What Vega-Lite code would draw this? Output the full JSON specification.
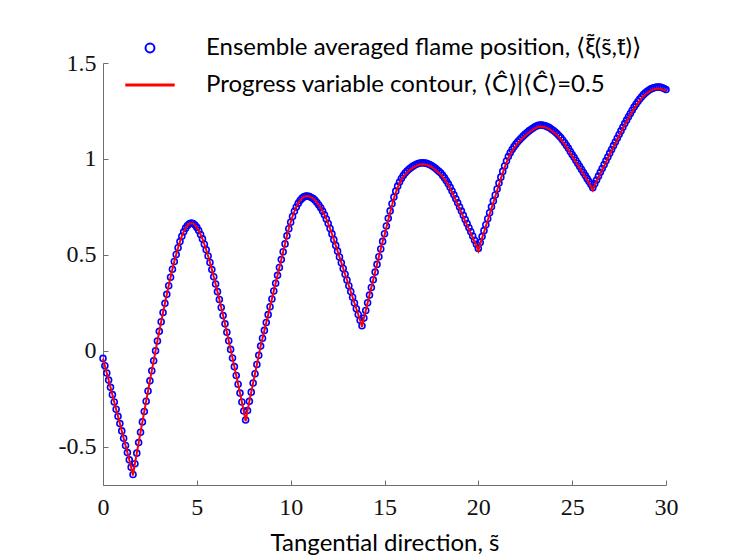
{
"$schema": "https://vega.github.io/schema/vega-lite/v6.json",
"width": 563, "height": 422,
"autosize": {"type": "none"},
"padding": {"left": 103, "top": 63, "right": 67, "bottom": 73},
"background": "white",
"config": {"view": {"stroke": null},
"legend": {"orient": "none", "legendX": 35, "legendY": -27, "title": null, "direction": "vertical", "padding": 0, "rowPadding": 13, "symbolSize": 1444, "labelFont": "Lato", "labelFontSize": 24, "labelColor": "#000000", "labelLimit": 700, "labelOffset": 44}},
"data": {"values": [
{"s":0.0,"a":-0.040,"b":-0.040},{"s":0.1,"a":-0.078,"b":-0.078},{"s":0.2,"a":-0.116,"b":-0.116},{"s":0.3,"a":-0.153,"b":-0.153},{"s":0.4,"a":-0.191,"b":-0.191},{"s":0.5,"a":-0.229,"b":-0.229},{"s":0.6,"a":-0.267,"b":-0.267},{"s":0.7,"a":-0.305,"b":-0.305},{"s":0.8,"a":-0.342,"b":-0.342},{"s":0.9,"a":-0.380,"b":-0.380},
{"s":1.0,"a":-0.418,"b":-0.418},{"s":1.1,"a":-0.456,"b":-0.456},{"s":1.2,"a":-0.494,"b":-0.494},{"s":1.3,"a":-0.531,"b":-0.531},{"s":1.4,"a":-0.569,"b":-0.569},{"s":1.5,"a":-0.607,"b":-0.607},{"s":1.6,"a":-0.645,"b":-0.650},{"s":1.7,"a":-0.589,"b":-0.589},{"s":1.8,"a":-0.534,"b":-0.534},{"s":1.9,"a":-0.479,"b":-0.479},
{"s":2.0,"a":-0.425,"b":-0.425},{"s":2.1,"a":-0.371,"b":-0.371},{"s":2.2,"a":-0.317,"b":-0.317},{"s":2.3,"a":-0.263,"b":-0.263},{"s":2.4,"a":-0.210,"b":-0.210},{"s":2.5,"a":-0.157,"b":-0.157},{"s":2.6,"a":-0.104,"b":-0.104},{"s":2.7,"a":-0.052,"b":-0.052},{"s":2.8,"a":0.000,"b":0.000},{"s":2.9,"a":0.051,"b":0.051},
{"s":3.0,"a":0.101,"b":0.101},{"s":3.1,"a":0.151,"b":0.151},{"s":3.2,"a":0.199,"b":0.199},{"s":3.3,"a":0.247,"b":0.247},{"s":3.4,"a":0.294,"b":0.294},{"s":3.5,"a":0.339,"b":0.339},{"s":3.6,"a":0.383,"b":0.383},{"s":3.7,"a":0.425,"b":0.425},{"s":3.8,"a":0.465,"b":0.465},{"s":3.9,"a":0.502,"b":0.502},
{"s":4.0,"a":0.537,"b":0.537},{"s":4.1,"a":0.569,"b":0.569},{"s":4.2,"a":0.597,"b":0.597},{"s":4.3,"a":0.620,"b":0.620},{"s":4.4,"a":0.639,"b":0.639},{"s":4.5,"a":0.653,"b":0.653},{"s":4.6,"a":0.662,"b":0.662},{"s":4.7,"a":0.665,"b":0.665},{"s":4.8,"a":0.663,"b":0.663},{"s":4.9,"a":0.655,"b":0.655},
{"s":5.0,"a":0.643,"b":0.643},{"s":5.1,"a":0.627,"b":0.627},{"s":5.2,"a":0.606,"b":0.606},{"s":5.3,"a":0.583,"b":0.583},{"s":5.4,"a":0.555,"b":0.555},{"s":5.5,"a":0.526,"b":0.526},{"s":5.6,"a":0.494,"b":0.494},{"s":5.7,"a":0.460,"b":0.460},{"s":5.8,"a":0.423,"b":0.423},{"s":5.9,"a":0.386,"b":0.386},
{"s":6.0,"a":0.348,"b":0.348},{"s":6.1,"a":0.308,"b":0.308},{"s":6.2,"a":0.267,"b":0.267},{"s":6.3,"a":0.225,"b":0.225},{"s":6.4,"a":0.183,"b":0.183},{"s":6.5,"a":0.140,"b":0.140},{"s":6.6,"a":0.096,"b":0.096},{"s":6.7,"a":0.052,"b":0.052},{"s":6.8,"a":0.007,"b":0.007},{"s":6.9,"a":-0.038,"b":-0.038},
{"s":7.0,"a":-0.083,"b":-0.083},{"s":7.1,"a":-0.129,"b":-0.129},{"s":7.2,"a":-0.175,"b":-0.175},{"s":7.3,"a":-0.221,"b":-0.221},{"s":7.4,"a":-0.267,"b":-0.267},{"s":7.5,"a":-0.314,"b":-0.314},{"s":7.6,"a":-0.361,"b":-0.368},{"s":7.7,"a":-0.312,"b":-0.312},{"s":7.8,"a":-0.264,"b":-0.264},{"s":7.9,"a":-0.216,"b":-0.216},
{"s":8.0,"a":-0.168,"b":-0.168},{"s":8.1,"a":-0.120,"b":-0.120},{"s":8.2,"a":-0.072,"b":-0.072},{"s":8.3,"a":-0.024,"b":-0.024},{"s":8.4,"a":0.024,"b":0.024},{"s":8.5,"a":0.065,"b":0.065},{"s":8.6,"a":0.106,"b":0.106},{"s":8.7,"a":0.147,"b":0.147},{"s":8.8,"a":0.188,"b":0.188},{"s":8.9,"a":0.229,"b":0.229},
{"s":9.0,"a":0.270,"b":0.270},{"s":9.1,"a":0.311,"b":0.311},{"s":9.2,"a":0.352,"b":0.352},{"s":9.3,"a":0.393,"b":0.393},{"s":9.4,"a":0.434,"b":0.434},{"s":9.5,"a":0.475,"b":0.475},{"s":9.6,"a":0.516,"b":0.516},{"s":9.7,"a":0.557,"b":0.557},{"s":9.8,"a":0.599,"b":0.599},{"s":9.9,"a":0.636,"b":0.636},
{"s":10.0,"a":0.670,"b":0.670},{"s":10.1,"a":0.700,"b":0.700},{"s":10.2,"a":0.727,"b":0.727},{"s":10.3,"a":0.749,"b":0.749},{"s":10.4,"a":0.768,"b":0.768},{"s":10.5,"a":0.783,"b":0.783},{"s":10.6,"a":0.794,"b":0.794},{"s":10.7,"a":0.802,"b":0.802},{"s":10.8,"a":0.806,"b":0.806},{"s":10.9,"a":0.806,"b":0.806},
{"s":11.0,"a":0.804,"b":0.804},{"s":11.1,"a":0.799,"b":0.799},{"s":11.2,"a":0.793,"b":0.793},{"s":11.3,"a":0.784,"b":0.784},{"s":11.4,"a":0.773,"b":0.773},{"s":11.5,"a":0.760,"b":0.760},{"s":11.6,"a":0.745,"b":0.745},{"s":11.7,"a":0.728,"b":0.728},{"s":11.8,"a":0.709,"b":0.709},{"s":11.9,"a":0.687,"b":0.687},
{"s":12.0,"a":0.663,"b":0.663},{"s":12.1,"a":0.637,"b":0.637},{"s":12.2,"a":0.609,"b":0.609},{"s":12.3,"a":0.579,"b":0.579},{"s":12.4,"a":0.549,"b":0.549},{"s":12.5,"a":0.519,"b":0.519},{"s":12.6,"a":0.489,"b":0.489},{"s":12.7,"a":0.459,"b":0.459},{"s":12.8,"a":0.429,"b":0.429},{"s":12.9,"a":0.399,"b":0.399},
{"s":13.0,"a":0.369,"b":0.369},{"s":13.1,"a":0.339,"b":0.339},{"s":13.2,"a":0.309,"b":0.309},{"s":13.3,"a":0.279,"b":0.279},{"s":13.4,"a":0.249,"b":0.249},{"s":13.5,"a":0.219,"b":0.219},{"s":13.6,"a":0.189,"b":0.189},{"s":13.7,"a":0.159,"b":0.159},{"s":13.8,"a":0.130,"b":0.124},{"s":13.9,"a":0.170,"b":0.170},
{"s":14.0,"a":0.210,"b":0.210},{"s":14.1,"a":0.250,"b":0.250},{"s":14.2,"a":0.290,"b":0.290},{"s":14.3,"a":0.330,"b":0.330},{"s":14.4,"a":0.370,"b":0.370},{"s":14.5,"a":0.410,"b":0.410},{"s":14.6,"a":0.450,"b":0.450},{"s":14.7,"a":0.490,"b":0.490},{"s":14.8,"a":0.530,"b":0.530},{"s":14.9,"a":0.570,"b":0.570},
{"s":15.0,"a":0.610,"b":0.602},{"s":15.1,"a":0.650,"b":0.642},{"s":15.2,"a":0.690,"b":0.682},{"s":15.3,"a":0.729,"b":0.721},{"s":15.4,"a":0.766,"b":0.758},{"s":15.5,"a":0.801,"b":0.793},{"s":15.6,"a":0.832,"b":0.824},{"s":15.7,"a":0.858,"b":0.850},{"s":15.8,"a":0.880,"b":0.872},{"s":15.9,"a":0.898,"b":0.890},
{"s":16.0,"a":0.913,"b":0.905},{"s":16.1,"a":0.926,"b":0.918},{"s":16.2,"a":0.937,"b":0.929},{"s":16.3,"a":0.946,"b":0.938},{"s":16.4,"a":0.954,"b":0.946},{"s":16.5,"a":0.961,"b":0.953},{"s":16.6,"a":0.967,"b":0.959},{"s":16.7,"a":0.972,"b":0.964},{"s":16.8,"a":0.976,"b":0.968},{"s":16.9,"a":0.979,"b":0.971},
{"s":17.0,"a":0.980,"b":0.972},{"s":17.1,"a":0.979,"b":0.971},{"s":17.2,"a":0.978,"b":0.970},{"s":17.3,"a":0.975,"b":0.967},{"s":17.4,"a":0.971,"b":0.963},{"s":17.5,"a":0.966,"b":0.958},{"s":17.6,"a":0.959,"b":0.951},{"s":17.7,"a":0.952,"b":0.944},{"s":17.8,"a":0.943,"b":0.935},{"s":17.9,"a":0.935,"b":0.927},
{"s":18.0,"a":0.926,"b":0.918},{"s":18.1,"a":0.914,"b":0.906},{"s":18.2,"a":0.901,"b":0.893},{"s":18.3,"a":0.886,"b":0.878},{"s":18.4,"a":0.870,"b":0.862},{"s":18.5,"a":0.852,"b":0.844},{"s":18.6,"a":0.833,"b":0.825},{"s":18.7,"a":0.813,"b":0.805},{"s":18.8,"a":0.792,"b":0.784},{"s":18.9,"a":0.771,"b":0.763},
{"s":19.0,"a":0.749,"b":0.741},{"s":19.1,"a":0.728,"b":0.720},{"s":19.2,"a":0.706,"b":0.698},{"s":19.3,"a":0.684,"b":0.676},{"s":19.4,"a":0.663,"b":0.655},{"s":19.5,"a":0.641,"b":0.633},{"s":19.6,"a":0.620,"b":0.612},{"s":19.7,"a":0.598,"b":0.590},{"s":19.8,"a":0.576,"b":0.568},{"s":19.9,"a":0.555,"b":0.547},
{"s":20.0,"a":0.533,"b":0.520},{"s":20.1,"a":0.564,"b":0.556},{"s":20.2,"a":0.595,"b":0.587},{"s":20.3,"a":0.626,"b":0.618},{"s":20.4,"a":0.657,"b":0.649},{"s":20.5,"a":0.688,"b":0.680},{"s":20.6,"a":0.719,"b":0.711},{"s":20.7,"a":0.750,"b":0.742},{"s":20.8,"a":0.781,"b":0.773},{"s":20.9,"a":0.812,"b":0.804},
{"s":21.0,"a":0.843,"b":0.835},{"s":21.1,"a":0.874,"b":0.866},{"s":21.2,"a":0.905,"b":0.897},{"s":21.3,"a":0.935,"b":0.927},{"s":21.4,"a":0.963,"b":0.955},{"s":21.5,"a":0.989,"b":0.981},{"s":21.6,"a":1.012,"b":1.004},{"s":21.7,"a":1.032,"b":1.024},{"s":21.8,"a":1.049,"b":1.041},{"s":21.9,"a":1.064,"b":1.056},
{"s":22.0,"a":1.077,"b":1.069},{"s":22.1,"a":1.089,"b":1.081},{"s":22.2,"a":1.100,"b":1.092},{"s":22.3,"a":1.110,"b":1.102},{"s":22.4,"a":1.120,"b":1.112},{"s":22.5,"a":1.129,"b":1.121},{"s":22.6,"a":1.138,"b":1.130},{"s":22.7,"a":1.146,"b":1.138},{"s":22.8,"a":1.153,"b":1.145},{"s":22.9,"a":1.160,"b":1.152},
{"s":23.0,"a":1.166,"b":1.158},{"s":23.1,"a":1.171,"b":1.163},{"s":23.2,"a":1.175,"b":1.167},{"s":23.3,"a":1.177,"b":1.169},{"s":23.4,"a":1.176,"b":1.168},{"s":23.5,"a":1.174,"b":1.166},{"s":23.6,"a":1.171,"b":1.163},{"s":23.7,"a":1.167,"b":1.159},{"s":23.8,"a":1.162,"b":1.154},{"s":23.9,"a":1.155,"b":1.147},
{"s":24.0,"a":1.148,"b":1.140},{"s":24.1,"a":1.140,"b":1.132},{"s":24.2,"a":1.131,"b":1.123},{"s":24.3,"a":1.121,"b":1.113},{"s":24.4,"a":1.110,"b":1.102},{"s":24.5,"a":1.097,"b":1.089},{"s":24.6,"a":1.084,"b":1.076},{"s":24.7,"a":1.070,"b":1.062},{"s":24.8,"a":1.055,"b":1.047},{"s":24.9,"a":1.039,"b":1.031},
{"s":25.0,"a":1.023,"b":1.015},{"s":25.1,"a":1.008,"b":1.000},{"s":25.2,"a":0.992,"b":0.984},{"s":25.3,"a":0.976,"b":0.968},{"s":25.4,"a":0.960,"b":0.952},{"s":25.5,"a":0.945,"b":0.937},{"s":25.6,"a":0.929,"b":0.921},{"s":25.7,"a":0.913,"b":0.905},{"s":25.8,"a":0.897,"b":0.889},{"s":25.9,"a":0.882,"b":0.874},
{"s":26.0,"a":0.866,"b":0.858},{"s":26.1,"a":0.850,"b":0.837},{"s":26.2,"a":0.870,"b":0.862},{"s":26.3,"a":0.890,"b":0.882},{"s":26.4,"a":0.910,"b":0.902},{"s":26.5,"a":0.930,"b":0.922},{"s":26.6,"a":0.950,"b":0.942},{"s":26.7,"a":0.970,"b":0.962},{"s":26.8,"a":0.990,"b":0.982},{"s":26.9,"a":1.010,"b":1.002},
{"s":27.0,"a":1.030,"b":1.022},{"s":27.1,"a":1.049,"b":1.041},{"s":27.2,"a":1.069,"b":1.061},{"s":27.3,"a":1.088,"b":1.080},{"s":27.4,"a":1.108,"b":1.100},{"s":27.5,"a":1.127,"b":1.119},{"s":27.6,"a":1.146,"b":1.138},{"s":27.7,"a":1.165,"b":1.157},{"s":27.8,"a":1.184,"b":1.176},{"s":27.9,"a":1.202,"b":1.194},
{"s":28.0,"a":1.220,"b":1.212},{"s":28.1,"a":1.237,"b":1.229},{"s":28.2,"a":1.254,"b":1.246},{"s":28.3,"a":1.270,"b":1.262},{"s":28.4,"a":1.285,"b":1.277},{"s":28.5,"a":1.299,"b":1.291},{"s":28.6,"a":1.312,"b":1.304},{"s":28.7,"a":1.324,"b":1.316},{"s":28.8,"a":1.335,"b":1.327},{"s":28.9,"a":1.344,"b":1.336},
{"s":29.0,"a":1.352,"b":1.344},{"s":29.1,"a":1.359,"b":1.351},{"s":29.2,"a":1.365,"b":1.357},{"s":29.3,"a":1.369,"b":1.361},{"s":29.4,"a":1.372,"b":1.364},{"s":29.5,"a":1.374,"b":1.366},{"s":29.6,"a":1.375,"b":1.367},{"s":29.7,"a":1.374,"b":1.366},{"s":29.8,"a":1.371,"b":1.363},{"s":29.9,"a":1.367,"b":1.359},
{"s":30.0,"a":1.362,"b":1.354}
]},
"layer": [
{
"mark": {"type": "point", "filled": false, "size": 36, "strokeWidth": 1.6, "opacity": 1, "clip": false},
"encoding": {
"x": {"field": "s", "type": "quantitative", "scale": {"domain": [0, 30], "nice": false, "zero": false},
"axis": {"values": [0, 5, 10, 15, 20, 25, 30], "grid": false, "tickSize": -5, "labelPadding": 15, "labelFlush": false, "labelFont": "Liberation Serif", "labelFontSize": 24, "labelColor": "#111111", "domainColor": "#6e6e6e", "tickColor": "#6e6e6e", "title": "Tangential direction,   s̃", "titleFont": "Lato", "titleFontSize": 24, "titleFontWeight": "normal", "titleColor": "#000000", "titlePadding": 12}},
"y": {"field": "a", "type": "quantitative", "scale": {"domain": [-0.7, 1.5], "nice": false, "zero": false},
"axis": {"values": [-0.5, 0, 0.5, 1, 1.5], "grid": false, "tickSize": -5, "labelPadding": 12, "labelExpr": "'' + datum.value", "labelFont": "Liberation Serif", "labelFontSize": 24, "labelColor": "#111111", "domainColor": "#6e6e6e", "tickColor": "#6e6e6e", "title": null}},
"color": {"datum": "Ensemble averaged flame position, ⟨ξ̃(s̃,t̃)⟩",
"scale": {"domain": ["Ensemble averaged flame position, ⟨ξ̃(s̃,t̃)⟩", "Progress variable contour, ⟨Ĉ⟩|⟨Ĉ⟩=0.5"], "range": ["#0000ff", "#ff0000"]},
"legend": {"symbolType": "circle",
"encode": {"symbols": {"update": {
"shape": {"signal": "datum.index === 0 ? 'circle' : 'M-1.3,0H1.3'"},
"size": {"signal": "datum.index === 0 ? 80 : 1444"},
"stroke": {"signal": "datum.index === 0 ? '#0000ff' : '#ff0000'"},
"fill": {"value": "transparent"},
"strokeWidth": {"signal": "datum.index === 0 ? 2 : 3"},
"opacity": {"value": 1}}}}}}
}
},
{
"mark": {"type": "line", "strokeWidth": 2, "clip": false},
"encoding": {
"x": {"field": "s", "type": "quantitative"},
"y": {"field": "b", "type": "quantitative"},
"color": {"datum": "Progress variable contour, ⟨Ĉ⟩|⟨Ĉ⟩=0.5",
"legend": {"symbolType": "circle",
"encode": {"symbols": {"update": {
"shape": {"signal": "datum.index === 0 ? 'circle' : 'M-1.3,0H1.3'"},
"size": {"signal": "datum.index === 0 ? 80 : 1444"},
"stroke": {"signal": "datum.index === 0 ? '#0000ff' : '#ff0000'"},
"fill": {"value": "transparent"},
"strokeWidth": {"signal": "datum.index === 0 ? 2 : 3"},
"opacity": {"value": 1}}}}}}
}
}
]
}
